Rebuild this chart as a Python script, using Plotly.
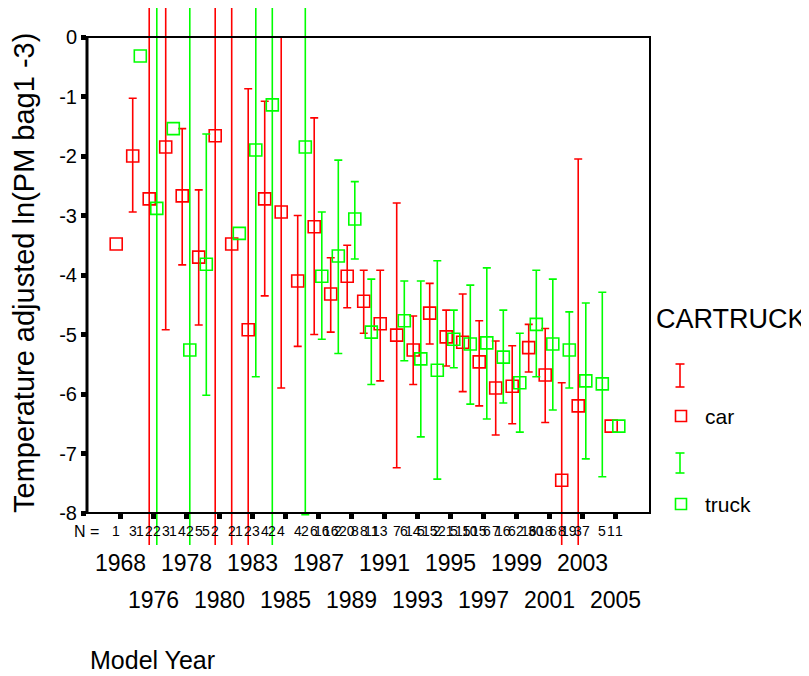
import plotly.graph_objects as go

# ---- data ----
years = ['1968', '1975', '1976', '1977', '1978', '1979', '1980', '1982', '1983', '1984',
         '1985', '1986', '1987', '1988', '1989', '1990', '1991', '1992', '1993', '1994',
         '1995', '1996', '1997', '1998', '1999', '2000', '2001', '2002', '2003', '2004', '2005']
label_years = ['1968', '1976', '1978', '1980', '1983', '1985', '1987', '1989',
               '1991', '1993', '1995', '1997', '1999', '2001', '2003', '2005']

car_mean = [-3.48, -2.00, -2.72, -1.85, -2.67, -3.70, -1.66, -3.48, -4.92, -2.72,
            -2.94, -4.10, -3.19, -4.32, -4.02, -4.44, -4.82, -5.01, -5.26, -4.64,
            -5.04, -5.13, -5.46, -5.90, -5.87, -5.22, -5.68, -7.45, -6.20, None, -6.54]
car_hi = [None, -1.03, 20.0, 1.22, -1.54, -2.57, 20.0, 20.0, -0.87, -1.08,
          0.00, -3.00, -1.36, -3.71, -3.50, -3.92, -3.92, -2.79, -4.69, -4.14,
          -4.59, -4.32, -4.77, -5.11, -5.19, -4.83, -4.90, -5.81, -2.05, None, None]
car_lo = [None, -2.94, -20.0, -4.92, -3.83, -4.84, -20.0, -20.0, -8.97, -4.35,
          -5.90, -5.20, -5.00, -4.96, -4.55, -4.98, -5.78, -7.24, -5.84, -5.16,
          -5.53, -5.96, -6.20, -6.69, -6.50, -5.63, -6.48, -9.10, -10.35, None, None]

truck_mean = [None, -0.32, -2.88, -1.54, -5.26, -3.82, None, -3.30, -1.90, -1.14,
              None, -1.85, -4.02, -3.68, -3.06, -4.96, None, -4.77, -5.41, -5.60,
              -5.08, -5.16, -5.14, -5.38, -5.81, -4.83, -5.16, -5.26, -5.78, -5.83, -6.54]
truck_hi = [None, None, 20.0, None, 20.0, -1.63, None, None, 1.91, 20.0,
            None, 4.30, -2.94, -2.07, -2.43, -4.07, None, -4.10, -4.10, -3.76,
            -4.59, -4.17, -3.88, -4.59, -4.98, -3.92, -4.07, -4.62, -4.47, -4.29, None]
truck_lo = [None, None, -20.0, None, -20.0, -6.02, None, None, -5.71, -20.0,
            None, -8.03, -5.08, -5.32, -3.73, -5.84, None, -5.44, -6.72, -7.43,
            -5.56, -6.17, -6.42, -6.15, -6.64, -5.71, -6.27, -5.90, -7.09, -7.39, None]

car_n = [1, 3, 2, 3, 4, 5, 2, 2, 2, 4, 4, 4, 6, 16, 20, 8, 13, 7, 14, 15,
         21, 15, 15, 7, 6, 16, 18, 8, 3, None, 1]
truck_n = [None, 1, 2, 1, 2, 5, None, 1, 3, 2, None, 2, 16, 2, 8, 11, None, 6, 5, 2,
           5, 10, 6, 16, 2, 30, 6, 19, 7, 5, 1]

RED = '#FF0000'
GREEN = '#00FF00'
FONT = 'Liberation Sans, Arial, sans-serif'
OFF = 0.23

fig = go.Figure()


def add_series(mean, hi, lo, offset, color, name):
    xb, yb, up, dn = [], [], [], []
    xs, ys = [], []
    for i, m in enumerate(mean):
        if m is None:
            continue
        if hi[i] is None:
            xs.append(i + offset)
            ys.append(m)
        else:
            xb.append(i + offset)
            yb.append(m)
            up.append(hi[i] - m)
            dn.append(m - lo[i])
    marker = dict(symbol='square-open', size=12, color=color, line=dict(width=1.6, color=color))
    fig.add_trace(go.Scatter(
        x=xb, y=yb, mode='markers', name=name, marker=marker, showlegend=False,
        error_y=dict(type='data', symmetric=False, array=up, arrayminus=dn,
                     color=color, thickness=1.6, width=4)))
    fig.add_trace(go.Scatter(x=xs, y=ys, mode='markers', name=name, marker=marker,
                             showlegend=False))


add_series(car_mean, car_hi, car_lo, -OFF, RED, 'car')
add_series(truck_mean, truck_hi, truck_lo, OFF, GREEN, 'truck')

# geometry in page pixels (the page body adds an 8 px offset)
PAGE = 8
L, R, T, B = 87, 650, 8, 545


def px(x):
    return (x - L) / (R - L)


def py(y):
    return (B - y) / (B - T)


ann = []
for k, lab in enumerate(label_years):
    ann.append(dict(x=2 * k, y=py(563) if k % 2 == 0 else py(600), xref='x', yref='paper',
                    text=lab, showarrow=False, xanchor='center', yanchor='middle',
                    font=dict(size=23, color='black', family=FONT)))
for i, n in enumerate(car_n):
    if n is not None:
        ann.append(dict(x=i - OFF, y=py(531), xref='x', yref='paper', text=str(n),
                        showarrow=False, xanchor='center', yanchor='middle',
                        font=dict(size=14, color='black', family=FONT)))
for i, n in enumerate(truck_n):
    if n is not None:
        ann.append(dict(x=i + OFF, y=py(531), xref='x', yref='paper', text=str(n),
                        showarrow=False, xanchor='center', yanchor='middle',
                        font=dict(size=14, color='black', family=FONT)))
ann.append(dict(x=px(86), y=py(531), xref='paper', yref='paper', text='N =',
                showarrow=False, xanchor='center', yanchor='middle',
                font=dict(size=16, color='black', family=FONT)))
ann.append(dict(x=px(152), y=py(660), xref='paper', yref='paper', text='Model Year',
                showarrow=False, xanchor='center', yanchor='middle',
                font=dict(size=25, color='black', family=FONT)))
ann.append(dict(x=px(24), y=py(273), xref='paper', yref='paper',
                text='Temperature adjusted ln(PM bag1 -3)', textangle=-90,
                showarrow=False, xanchor='center', yanchor='middle',
                font=dict(size=29, color='black', family=FONT)))
ann.append(dict(x=px(731), y=py(319), xref='paper', yref='paper', text='CARTRUCK',
                showarrow=False, xanchor='center', yanchor='middle',
                font=dict(size=27, color='black', family=FONT)))
ann.append(dict(x=px(703), y=py(416), xref='paper', yref='paper', text='car',
                showarrow=False, xanchor='left', yanchor='middle',
                font=dict(size=21, color='black', family=FONT)))
ann.append(dict(x=px(703), y=py(504), xref='paper', yref='paper', text='truck',
                showarrow=False, xanchor='left', yanchor='middle',
                font=dict(size=21, color='black', family=FONT)))

shapes = []
shapes.append(dict(type='rect', xref='paper', yref='y', x0=0, x1=1, y0=-8, y1=0,
                   line=dict(color='black', width=2)))
shapes.append(dict(type='line', xref='paper', yref='y', x0=0, x1=0, y0=-8, y1=0,
                   line=dict(color='black', width=3)))


def err_symbol(cx, ytop, ybot, color):
    shapes.append(dict(type='line', xref='paper', yref='paper', x0=px(cx), x1=px(cx),
                       y0=py(ybot), y1=py(ytop), line=dict(color=color, width=1.6)))
    for yy in (ytop, ybot):
        shapes.append(dict(type='line', xref='paper', yref='paper', x0=px(cx - 4.5),
                           x1=px(cx + 4.5), y0=py(yy), y1=py(yy),
                           line=dict(color=color, width=1.6)))


def sq_symbol(cx, cy, color):
    shapes.append(dict(type='rect', xref='paper', yref='paper', x0=px(cx - 5.5),
                       x1=px(cx + 5.5), y0=py(cy + 5.5), y1=py(cy - 5.5),
                       line=dict(color=color, width=1.6)))


err_symbol(680, 364, 387, RED)
sq_symbol(681, 416, RED)
err_symbol(680, 453, 473, GREEN)
sq_symbol(681, 504, GREEN)

ymin = -8 - (B - 513) / 59.5
ymax = (37 - T) / 59.5
xmin = -2.0
xmax = xmin + (R - L) / 16.5

fig.update_layout(
    width=809, height=676,
    margin=dict(l=L - PAGE, r=809 - (R - PAGE), t=T - PAGE, b=676 - (B - PAGE), pad=0),
    paper_bgcolor='white', plot_bgcolor='white',
    font=dict(family=FONT, color='black'),
    showlegend=False,
    xaxis=dict(range=[xmin, xmax], tickvals=list(range(0, 31, 2)), showticklabels=False,
               ticks='outside', ticklen=5, tickwidth=5, tickcolor='black',
               showgrid=False, zeroline=False, showline=False, automargin=False,
               anchor='free', position=(-8 - ymin) / (ymax - ymin)),
    yaxis=dict(range=[ymin, ymax], tickvals=[0, -1, -2, -3, -4, -5, -6, -7, -8],
               ticktext=['0', '-1', '-2', '-3', '-4', '-5', '-6', '-7', '-8'],
               ticks='outside', ticklen=5, tickwidth=5, tickcolor='black',
               tickfont=dict(size=20, family=FONT, color='black'), automargin=False,
               showgrid=False, zeroline=False, showline=False),
    annotations=ann,
    shapes=shapes,
)

fig.write_html('out.html')
